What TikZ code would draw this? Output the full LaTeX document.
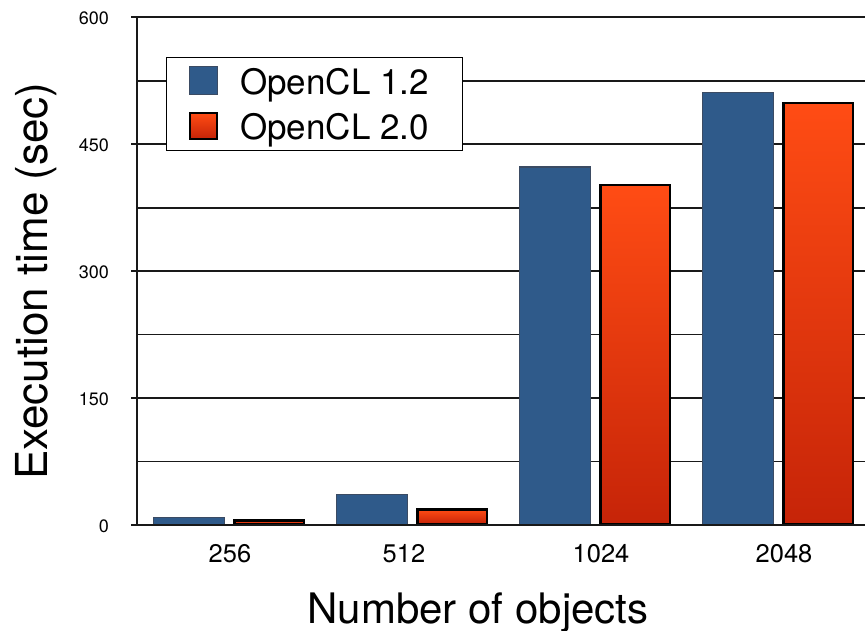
\documentclass[tikz,border=0pt]{standalone}
\usepackage{fontspec}
\setmainfont{TeX Gyre Heros}
\definecolor{barblue}{RGB}{47,90,138}
\definecolor{bluerim}{RGB}{59,75,99}
\definecolor{redtop}{RGB}{255,76,20}
\definecolor{redbottom}{RGB}{198,36,8}
\newcommand\yzero{525}
\newcommand\ysc{0.8462}

\begin{document}
\begin{tikzpicture}[x=1pt, y=-1pt,
  gridline/.style={black!90, line width=1.7pt},
  bluebar/.style={fill=barblue, draw=bluerim, line width=1.3pt},
  redbar/.style={top color=redtop, bottom color=redbottom, draw=black, line width=2.5pt},
  ticklbl/.style={font=\fontsize{18}{20}\selectfont, anchor=base east, inner sep=0pt},
  grouplbl/.style={font=\fontsize{25.5}{30}\selectfont, anchor=base, inner sep=0pt},
  axislbl/.style={font=\fontsize{42}{48}\selectfont, anchor=base, inner sep=0pt},
  legendlbl/.style={font=\fontsize{35}{40}\selectfont, anchor=base west, inner sep=0pt}]
\useasboundingbox (0,0) rectangle (865,631);

    %grid and axes
    \foreach \v in {75,150,...,600}
        \draw [gridline] (137, {\yzero-\v*\ysc}) -- (865, {\yzero-\v*\ysc});
    \foreach \v in {0,150,...,600} {
        \draw [gridline] (131, {\yzero-\v*\ysc}) -- (137, {\yzero-\v*\ysc});
        \node [ticklbl] (t\v) at (109, {\yzero-\v*\ysc+7.7}) {\v};
    }

    %bars, blue = 1.2, red = 2.0
    \foreach \i/\b/\r in {0/10/7, 1/37/20, 2/424/403, 3/512/500} {
        \pgfmathsetmacro\xb{152.5+183.1*\i}
        \draw [bluebar] (\xb+0.7, \yzero) rectangle (\xb+71.8, {\yzero-\b*\ysc+0.7});
        \draw [redbar] (\xb+81.8, \yzero-1.2) rectangle (\xb+151.3, {\yzero-\r*\ysc+1.2});
    }
    \draw [gridline] (131, \yzero) -- (865, \yzero);
    \draw [gridline] (137, {\yzero-600*\ysc}) -- (137, \yzero);

    \foreach \n/\x in {256/230, 512/404, 1024/601, 2048/784}
        \node [grouplbl] (g\n) at (\x, 562.7) {\n};

    \node [axislbl] (xlab) at (478, 623) {Number of objects};
    \node [axislbl, font=\fontsize{44}{50}\selectfont, rotate=90] (ylab) at (47.5, 281) {Execution time (sec)};

    %legend
    \node [draw, fill=white, line width=1.3pt, minimum width=296, minimum height=93,
           anchor=north west, inner sep=0pt] (legend) at (166, 57) {};
    \draw [bluebar] (189.5, 66.5) rectangle (217.5, 94.5);
    \draw [redbar] (190.2, 113.2) rectangle (216.8, 138.8);
    \node [legendlbl] (l12) at (240, 94.3) {OpenCL 1.2};
    \node [legendlbl] (l20) at (240, 139.3) {OpenCL 2.0};
\end{tikzpicture}
\end{document}
